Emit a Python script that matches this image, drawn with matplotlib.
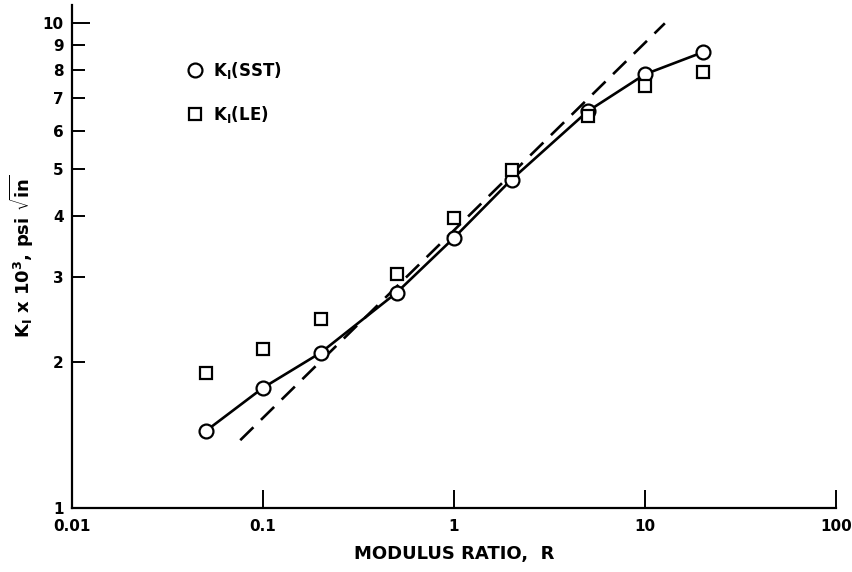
import numpy as np
import matplotlib
matplotlib.use('Agg')
import matplotlib.pyplot as plt

# Modulus ratio values and stress intensity factors (x 10^3)
ratio = [0.05, 0.1, 0.2, 0.5, 1, 2, 5, 10, 20]
k_sst = [1.44, 1.77, 2.09, 2.78, 3.61, 4.76, 6.58, 7.85, 8.71]
k_le = [1.90, 2.13, 2.45, 3.04, 3.97, 4.99, 6.43, 7.41, 7.92]

# dashed reference line end points
dash_x = [0.076, 12.7]
dash_y = [1.38, 10.0]

x_ticks = [0.01, 0.1, 1, 10, 100]
x_ticklabels = ['0.01', '0.1', '1', '10', '100']
y_ticks = [1, 2, 3, 4, 5, 6, 7, 8, 9, 10]

plt.rcParams['mathtext.fontset'] = 'dejavusans'

fig = plt.figure(figsize=(8.53, 5.72), dpi=100)
ax = fig.add_axes([0.0844, 0.1119, 0.8957, 0.8791])

ax.set_xscale('log')
ax.set_yscale('log')

ax.plot(ratio, k_sst, color='black', lw=1.9, zorder=2)
ax.plot(dash_x, dash_y, color='black', lw=1.9, dashes=(7, 4), zorder=2)
ax.plot(ratio, k_sst, 'o', ms=10, mfc='white', mec='black', mew=1.6, zorder=3)
ax.plot(ratio, k_le, 's', ms=9, mfc='white', mec='black', mew=1.6, zorder=3)

ax.set_xlim(0.01, 100)
ax.set_ylim(1, 10.9)

ax.spines['top'].set_visible(False)
ax.spines['right'].set_visible(False)
ax.spines['left'].set_linewidth(1.6)
ax.spines['bottom'].set_linewidth(1.6)

ax.set_xticks(x_ticks)
ax.set_xticklabels(x_ticklabels)
ax.xaxis.set_minor_locator(matplotlib.ticker.NullLocator())
ax.set_yticks(y_ticks)
ax.set_yticklabels([str(v) for v in y_ticks])
ax.yaxis.set_minor_locator(matplotlib.ticker.NullLocator())

ax.tick_params(axis='x', direction='in', length=13, width=1.4, pad=8,
               labelsize=11)
ax.tick_params(axis='y', direction='in', length=9, width=1.4, pad=6,
               labelsize=11)
ax.yaxis.get_major_ticks()[-1].tick1line.set_markersize(13)
for lab in ax.get_xticklabels() + ax.get_yticklabels():
    lab.set_fontweight('bold')

ax.set_xlabel('MODULUS RATIO,  R', fontsize=13, fontweight='bold', labelpad=8)
ax.set_ylabel(r'K$_\mathbf{I}$ x 10$^\mathbf{3}$, psi $\sqrt{\mathbf{in}}$',
              fontsize=13, fontweight='bold', labelpad=5)

# legend drawn as in the original figure
ax.plot([0.044], [8.0], 'o', ms=10, mfc='white', mec='black', mew=1.6,
        clip_on=False)
ax.plot([0.044], [6.49], 's', ms=9, mfc='white', mec='black', mew=1.6,
        clip_on=False)
ax.text(0.055, 8.0, r'K$_\mathbf{I}$(SST)', fontsize=12, fontweight='bold',
        va='center')
ax.text(0.055, 6.49, r'K$_\mathbf{I}$(LE)', fontsize=12, fontweight='bold',
        va='center')

fig.savefig('out.png', dpi=100)
